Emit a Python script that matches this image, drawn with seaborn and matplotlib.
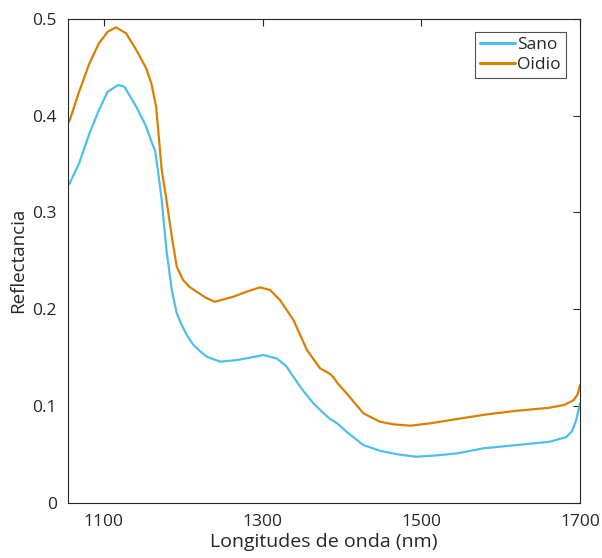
import matplotlib
matplotlib.use("Agg")
import matplotlib.pyplot as plt
import seaborn as sns
import pandas as pd

# Data
sano_x = [1055, 1057, 1069, 1082, 1094, 1105, 1118, 1126, 1141, 1153.5, 1160, 1164.6, 1168,
          1173, 1179, 1185.7, 1192, 1198, 1204.6, 1213, 1222, 1230, 1246.6, 1267.6, 1285, 1301,
          1318, 1330, 1339, 1350, 1364, 1375, 1384, 1394, 1406, 1427, 1448, 1470, 1494,
          1520, 1545, 1578, 1620, 1662, 1683, 1690, 1695, 1700]
sano_y = [0.328, 0.330, 0.3506, 0.3816, 0.4057, 0.4246, 0.4315, 0.4298, 0.409, 0.3884,
          0.373, 0.364, 0.345, 0.3127, 0.261, 0.2197, 0.1957, 0.184, 0.1732, 0.163, 0.156, 0.1508,
          0.1457, 0.1474, 0.150, 0.1526, 0.149, 0.141, 0.130, 0.117, 0.1027, 0.094, 0.0872,
          0.082, 0.0733, 0.0596, 0.0537, 0.050, 0.0475, 0.049, 0.051, 0.0562, 0.0596,
          0.063, 0.068, 0.074, 0.085, 0.1027]

oidio_x = [1055, 1057, 1069, 1082, 1094, 1105, 1115.5, 1128, 1141, 1153.5, 1160, 1166,
           1173, 1179, 1185.7, 1192, 1200, 1208, 1217, 1228, 1240, 1263, 1280, 1297,
           1309.6, 1322, 1339, 1356, 1372.6, 1384, 1389, 1395, 1406, 1427, 1448, 1465,
           1486, 1511, 1545, 1580, 1620, 1660, 1680, 1692, 1697, 1700]
oidio_y = [0.392, 0.395, 0.4246, 0.454, 0.4746, 0.4866, 0.491, 0.485, 0.4677, 0.4487,
           0.433, 0.409, 0.344, 0.3127, 0.2748, 0.2438, 0.230, 0.223, 0.218, 0.212, 0.2076,
           0.2128, 0.218, 0.2225, 0.2197, 0.2094, 0.1887, 0.1577, 0.1388, 0.1337, 0.130,
           0.123, 0.113, 0.0924, 0.0837, 0.081, 0.0796, 0.082, 0.0865, 0.091, 0.095,
           0.098, 0.101, 0.106, 0.112, 0.1216]

series_names = ["Sano", "Oidio"]
series_colors = ["#4DBEEE", "#D98000"]
x_ticks = [1100, 1300, 1500, 1700]
y_ticks = [0, 0.1, 0.2, 0.3, 0.4, 0.5]
y_tick_labels = ["0", "0.1", "0.2", "0.3", "0.4", "0.5"]

df = pd.concat([
    pd.DataFrame({"x": sano_x, "y": sano_y, "serie": series_names[0]}),
    pd.DataFrame({"x": oidio_x, "y": oidio_y, "serie": series_names[1]}),
], ignore_index=True)

sns.set_style("white")
plt.rcParams["font.family"] = ["Open Sans", "DejaVu Sans"]

fig = plt.figure(figsize=(6.02, 5.58), dpi=100)
ax = fig.add_axes([0.113, 0.099, 0.8505, 0.8675])

sns.lineplot(data=df, x="x", y="y", hue="serie", palette=series_colors,
             hue_order=series_names, linewidth=1.6, ax=ax, sort=False, estimator=None)
for ln in ax.get_lines():
    ln.set_solid_joinstyle("round")
    ln.set_solid_capstyle("round")

ax.set_xlim(1055, 1700)
ax.set_ylim(0, 0.5)
ax.set_xticks(x_ticks)
ax.set_yticks(y_ticks)
ax.set_yticklabels(y_tick_labels)
ax.tick_params(direction="in", length=5, width=0.8, top=True, right=True,
               labelsize=12.5, colors="#262626", pad=8)
for s in ax.spines.values():
    s.set_color("#262626")
    s.set_linewidth(0.8)
ax.set_xlabel("Longitudes de onda (nm)", fontsize=14, color="#262626", labelpad=2)
ax.set_ylabel("Reflectancia", fontsize=13.5, color="#262626", labelpad=4)

leg = ax.legend(loc="upper right", bbox_to_anchor=(0.973, 0.973), fontsize=12.5,
                frameon=True, fancybox=False, handlelength=2.0, handletextpad=0.15,
                borderpad=0.3, labelspacing=0.2, borderaxespad=0.0)
leg.get_frame().set_edgecolor("#262626")
leg.get_frame().set_linewidth(0.8)
for line in leg.get_lines():
    line.set_linewidth(2.2)

fig.savefig("out.png", dpi=100)
